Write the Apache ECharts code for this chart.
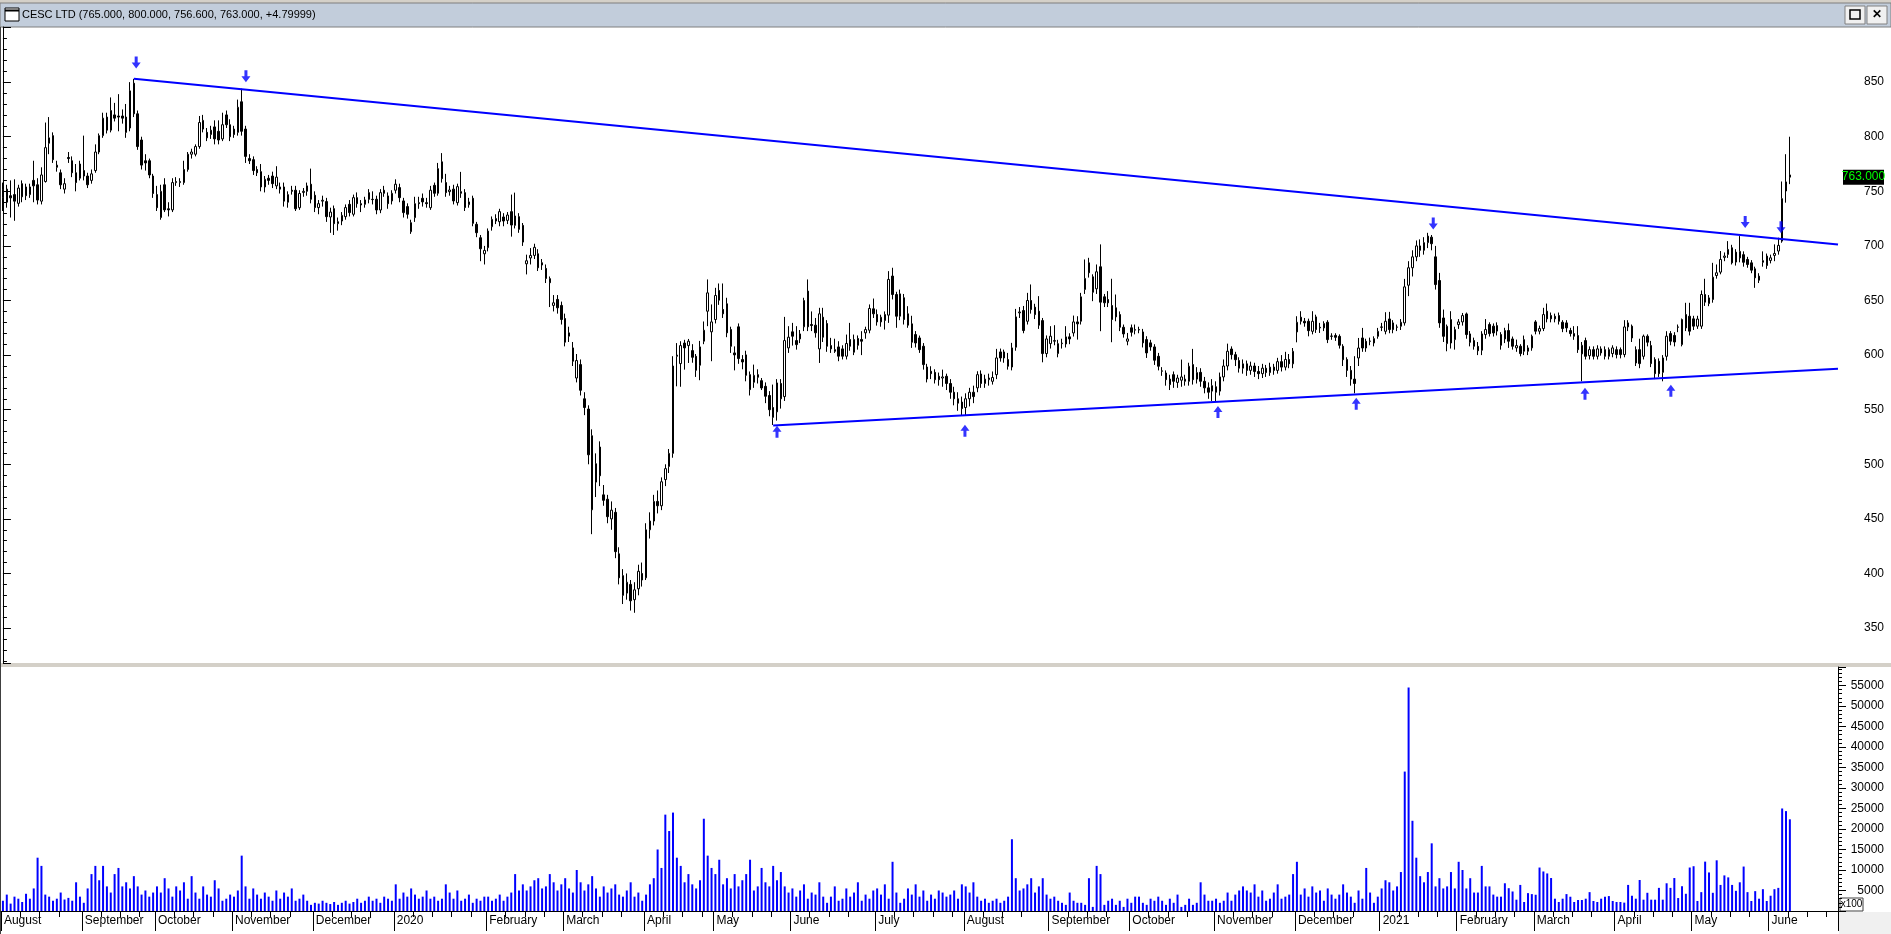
<!DOCTYPE html>
<html><head><meta charset="utf-8">
<script src="https://cdn.jsdelivr.net/npm/echarts@6/dist/echarts.min.js"></script>
<style>html,body{margin:0;padding:0;background:#fff;overflow:hidden}#c{width:1891px;height:934px}</style>
</head><body><div id="c"></div>
<script>
const titleText = 'CESC LTD (765.000, 800.000, 756.600, 763.000, +4.79999)';
const lastPriceLabel = '763.000';
const lastClose = 763;
const volumeUnitLabel = 'x100';
const monthLabels = ['August','September','October','November','December','2020','February','March','April','May','June','July','August','September','October','November','December','2021','February','March','April','May','June'];
const monthStarts = [0,21,40,60,81,102,126,146,167,185,205,227,250,272,293,315,336,358,378,398,419,439,459];
const futureBars = 12;
// [open, close, low, high]
const ohlc = [
[744,752,732,758],[740,752,735,756],[746,744,726,760],[747,741,723,761],[739,753,736,756],[757,745,740,760],[754,746,742,757],[747,754,744,757],[760,755,740,778],[756,742,738,762],
[741,765,738,772],[759,790,758,813],[794,799,784,818],[801,779,776,804],[772,774,768,778],[767,756,752,770],[752,757,748,762],[781,780,776,786],[778,767,763,782],[767,758,750,775],
[762,775,760,778],[769,764,760,801],[764,756,753,767],[760,766,757,770],[769,786,767,793],[786,801,784,803],[801,817,799,822],[818,806,803,822],[806,824,804,836],[820,817,814,831],
[819,818,805,839],[819,817,812,825],[818,804,799,830],[808,842,805,850],[849,821,818,853],[821,791,788,824],[797,774,770,800],[778,776,769,784],[778,765,762,780],[764,748,744,766],
[747,735,732,755],[726,750,724,756],[756,733,731,762],[734,733,727,740],[733,758,731,762],[758,759,755,763],[758,759,754,762],[758,770,756,778],[770,784,768,786],[784,786,780,789],
[784,791,782,793],[791,813,789,819],[807,815,804,820],[804,799,796,808],[802,806,798,810],[809,798,793,815],[805,797,793,815],[798,811,796,822],[820,811,808,824],[811,800,796,816],
[807,802,799,810],[804,827,801,834],[832,805,801,844],[807,782,776,810],[780,778,775,784],[779,769,765,782],[770,767,764,773],[768,754,750,775],[754,761,749,764],[762,760,756,765],
[764,757,753,768],[755,763,752,773],[754,752,748,758],[754,741,736,758],[740,747,735,750],[751,750,747,755],[751,734,732,755],[735,748,733,751],[749,750,745,753],[750,755,746,758],
[756.5,742.7,739,770.8],[746.4,735.1,731,750],[735.1,738.7,729,742],[741,741.8,736,746],[740.6,726.8,722,744],[726.5,731,712,735],[734.1,720.4,710,737],[720.4,722.2,714,726],[722.8,728,719,731],[726.8,735.1,724,738],
[738.1,730.5,727,742],[729,744.2,727,747],[744.2,738.7,735,749],[738.7,737.5,731,742],[738.1,742.1,735,745],[748.8,742.7,739,752],[742.7,742.4,738,750],[742.7,732.9,729,746],[732.9,748.8,730,752],[751,748.2,745,755],
[745.8,738.7,734,749],[741.2,748.2,738,751],[751,756.5,748,761],[753.4,744.2,740,757],[741.2,730.5,726,744],[736,729,725,739],[713,721.3,711,724],[725.9,738.7,722,745],[739.6,738.7,734,745],[743.6,740.3,736,748],
[739.6,738.7,735,744],[735,751,733,755],[755.5,748.2,745,758],[748.2,770.8,746,776],[777,761.6,758,785],[758,748.8,745,766],[749.7,751.2,746,755],[752,741.2,738,756],[739.6,754.3,737,757],[749.7,748.2,744,767.8],
[748.8,735.1,732,752],[737.8,740.3,735,744],[743.6,720.7,718,746],[719.8,712.1,708,722],[707.5,697.4,686,710],[692.8,695.9,683,700],[698.4,713.6,695,716],[717.6,724.3,714,727],[725,722.8,720,729],[722.2,731.4,718,734],
[726.5,722.8,718,730],[723.4,728.3,720,731],[731.4,719.1,708.5,747],[718.8,727.4,716,748.8],[726.8,715.2,712,730],[718.8,703.5,700,721],[683.6,686.4,673.9,692],[689,691.3,683,698],[691.3,698.7,688,702],[692.8,680,677,697],
[684.6,682.5,678,688],[679.4,670.2,666,683],[670,666.3,644,672],[645.5,647.9,640,655],[651,643.3,638,655],[645.5,632.6,628,649],[633.5,611.8,608,638],[617.3,620.4,612,626],[606.6,594.4,590,612],[579,595,575,601],
[591.3,567.8,563,596],[560,552,545,566],[550.6,508.7,500,554],[458.3,526.2,436,532],[500.5,483.7,470,510],[515.8,489.5,480,521],[472,467,462,481],[468,452,446,472],[450,458,440,466],[456,420,414,460],
[418,396,390,424],[398,380,372,404],[382,392,376,400],[390,375,366,394],[376,385,364,392],[386,402,380,408],[400,394,388,410],[396,440,394,446],[440,448,432,456],[448,466,444,472],
[466,462,455,476],[462,484,458,488],[486,496,480,500],[498,510,492,514],[510,590,506,599],[598.9,600,571.4,611],[592.2,608.7,571,612.7],[611,606.6,586.7,614],[608.7,612.7,592.8,614.8],[604.1,598,593,610],
[598.9,586.1,580,601],[590.7,607.5,577,613],[612.7,622.8,610,630.8],[640.2,657,626.5,669.3],[621.3,630.4,594.4,646.4],[632.6,654.6,629,661.6],[659.2,650.3,646,665.6],[641.8,637.8,634,665.6],[647,620.4,616.4,652.5],[623.4,608.1,602,626],
[602,600.2,586,608],[625.9,596.8,592,629],[595.9,593.7,587,600],[600.2,581.5,576,604],[582.1,568.4,563,585],[575.1,581.5,570,591.3],[582.1,579.7,574,587],[576.6,569.9,568,579],[571.4,562.3,556,575],[563,550,544,567],
[552,543,536,573],[548,574.5,540,578],[574,560,551,578],[562,613.3,558,635],[606.6,616.4,602,626.5],[621.3,617.3,608.7,629.5],[613.3,609.6,605,626.5],[614.8,619.4,611,623],[625.9,650,622,652.5],[658.6,625.9,622,669.3],
[628,627.1,622,640],[627.4,620.4,616,634],[605.7,637.8,592.8,643.3],[634.7,616.4,612,643.3],[628.9,608.1,603,632],[608.7,605.7,602,615.8],[605,603.5,602,615],[607.5,599,594.4,612.7],[605.7,599,596,609],[599,610.6,596,618.8],
[614.3,608.1,604,629.5],[602.6,614.3,600,618.8],[615.2,609,605,618],[614.3,612.7,600,621.9],[620.4,623.4,615,626],[622.8,642.7,620,646.4],[642.4,637.8,634,651.8],[637.2,630.4,627,641.8],[630.4,634.7,626,637],[631.7,637.2,623.4,640],
[636.6,669.3,629.5,676.9],[672.4,655.5,651,680],[655.5,635.6,625,658],[635.6,656.1,632,660],[652.5,632.6,628,656],[637.8,627.4,625,644.8],[628.6,611.8,606.6,636],[618.8,611.1,607,622],[615.7,605,602,617.9],[608.1,591.3,586.7,611],
[589.1,578.1,575,592],[585.2,583,578,589.8],[584.2,577.5,574,587],[580.6,577.5,572,584],[579,580,571,586.7],[580.6,574,568,583],[574,566,560,578],[566,560,554,571],[560,556,549,566],[557,551,545,562],
[552,560,545,565],[560,566,553,570],[566,562,556,572],[570,582.1,566,585.2],[582.7,574,570,586],[574,578,570,582],[577.5,579,572,583],[576,579.5,573,585],[582.1,597.4,578,605.7],[602.9,597.4,594,606],
[602.9,597.4,593,605],[595.9,589.8,586.7,602],[589.1,606.6,586,611.2],[607.2,635,604,642.3],[638.7,639.5,634,644],[640.8,622.5,620,645],[631,650,628,657],[650,641.7,638,664.7],[643.9,637.1,633,647],[640.2,627.4,624,654],
[631.6,601.4,593.4,634],[601.4,614.8,598,618],[610.5,617.3,606,626.5],[612.7,613.3,609,627.4],[601.4,610.5,598,614],[610.5,611,606,615],[610.2,616.7,607,626.5],[616.7,614.8,610,620],[620.3,630.4,617,636.2],[630.4,628.6,614.2,635.6],
[631,653.4,628,657],[660.1,670.2,656,687.6],[684.5,675.4,671,689.1],[671.7,657.6,649.4,674],[660.7,676.3,656,683],[680.9,648.5,621.9,701.4],[653.4,647.9,644,656],[650.9,647.9,644,658.6],[645.4,632.6,611.8,669.9],[643.3,635,631,655.5],
[637.1,625.5,622,640],[625.5,619.4,616,628],[612.7,614.8,609,620.3],[625,620.9,617,628],[622.8,623.4,619,628],[623.4,623,620,626],[621.2,611.2,607,624],[614.2,602,597.4,617.3],[611.2,607.5,604,614],[607.5,595.3,591,610],
[598.9,589.8,586,602],[585.2,585.6,581,589],[583.6,577.5,572,586],[578,573,568,582],[582.1,576,570,585],[575,579,570,582],[577,580,571,595.9],[576,578,572,582],[576,589.8,572,593],[591.3,577.5,573,605.7],
[578,584,574,589],[584.2,576,571,588],[576,570,565,580],[570,566,560,575],[567,572,558,578],[571,566,557,576],[567,580,563,584],[580,590,576,596],[590,603.5,586,610.5],[605.6,600.4,596,608],
[600.4,595.8,590,603],[595,588,584,598],[588,592,583,596],[592,586,581,595],[586,590,582,594],[590,585,580,593],[585,583,578,590],[583,588,579,592],[588,584,580,591],[584,589,581,593],
[589,586,582,592],[586,594,583,597.5],[594,589,585,600],[589,596,586,603],[596,592,588,601],[592,603.5,588,606.5],[621.2,630.1,611.7,635.6],[634.7,631,628,640.2],[631,629.5,626,634],[631,622.4,617.2,633.4],
[621.8,631,619,640.2],[635,623.4,620.3,637],[625.5,624.9,620.3,629.5],[624.9,628.9,622,631],[630.1,614.2,611,632],[617.5,617.2,614,620],[618,616.3,613,620],[617.2,609,606,619],[608.1,595.8,590,610],[596,586,580,598],
[586,578,572,590],[578,574,565,599],[597.4,606.5,590,615.7],[615.7,606.5,603,624.9],[612.6,606.5,603,615],[612.6,612.9,609,616],[611.1,615.1,608,617.2],[617.2,621.8,615,624.9],[625.8,625.5,622,629.5],[621.8,631,619,639.3],
[633.1,623.4,620,639.6],[629.5,623.4,620,632],[625.8,625.5,622,628],[626.4,630.1,623,633],[629.5,662.5,627,669.8],[664,680,654,686],[680,690,672,696],[690,700,686,705],[700,696,690,706],[696,703,692,708],
[703,709,698,712],[708,702,696,710],[690,664.6,660,700],[668.3,629.5,625,675.3],[634,617.2,612,641.7],[610.5,626.4,603.5,628],[632.5,611.1,606,640.2],[614.2,623.4,605,626],[627.9,630.4,624,633],[630.4,636.2,627,638.6],
[637.7,618.8,615,639],[619.4,611.7,608,622],[613.3,608.1,605,616],[608,604,600,612],[604.4,619.4,600,621.9],[618.8,623.4,615,633],[628,619.7,617,630],[626.5,620.3,617,629],[627,622,618,630],[618.8,609,605,621],
[614.8,622.5,611,625],[622.5,612.7,606.6,628.9],[614.8,608.1,605,617],[606.6,608.7,603,614.2],[608.1,601.4,598.9,610],[603.5,614.2,600,617.9],[603.5,606.6,600,609],[606.6,617.3,604,618.8],[630.4,621.9,619,632],[621.9,624.3,619,627],
[624.3,637.1,622,643.3],[640.2,633.2,630,647.2],[636.2,633.2,630,639],[635.5,633.2,630,638],[636.2,631,628,639],[630.1,624.3,621,632],[629.5,624.9,621,632],[622.5,619.7,617,625],[619.7,617.3,614,626.5],[617.9,605,602,626.5],
[601.1,609,576,612],[613.3,598.9,596,616],[599.5,605,596,608],[605,598.9,596,608],[598.9,605.7,596,609],[605.7,602,599.5,608],[605,598.9,596,608],[598.9,605,596,607],[601.4,606.6,598,609],[605,600.5,597,608],
[605,600.5,597,607],[600.5,625.8,598,632],[625.8,629.5,622,632],[626.5,615.7,612,628],[605,592.8,590,608],[605,592.2,588,615],[598.9,617.3,596,618.8],[617.3,611.8,608,619],[608.7,592.2,589,613],[595.9,583,578,598],
[594.4,583,580,597],[584.2,597.4,576,600],[598.9,617.3,595,621.9],[619.7,612.7,609,622],[618,612,608,621],[625.8,625.5,621,628],[609.6,632.6,608,633.5],[637.1,624.9,622,647.9],[635.6,621.9,618,647.9],[633.2,626.5,623,636],
[626.5,633,624,636],[626.5,655.5,624,659.2],[655.5,648.5,645,669.9],[647.2,652.4,644.8,655],[650.9,671.4,648,684.5],[672.9,675.4,670,683],[676,687.6,674,695.3],[689.5,690.7,686,694],[692.2,696.8,689,704.4],[698.3,684.5,683,701],
[694.3,685.2,682,697],[689,695,685,709],[692,685,681,695],[687.6,683,680,690],[684.5,677.8,675,687],[679,670.8,661.6,681],[672.3,668.6,666,675],[685,686.5,681,695],[690.7,682.1,679,693],[686.7,689.1,684,692],
[691.3,693.1,686,701.4],[695.3,700.5,692,707.5],[704.4,743.3,702.9,759],[750.3,758.6,739.6,784],[765,763,756.6,800]
];
// volume in units of 100 shares
const volume = [
2500,4000,1800,3500,3000,2200,4200,3000,5500,13000,11000,4000,3500,2500,3000,4500,2800,3200,2500,7000,
3500,2000,5500,9000,11000,7500,11000,6000,4500,9000,10500,6000,7000,5500,8500,6000,4000,5000,3500,4500,
6000,4500,8000,5500,3500,6000,5000,7000,3000,8500,4500,3000,6000,4000,3500,7500,5500,2500,3000,4000,
3500,5000,13500,6000,3000,5500,4000,3000,4500,3500,2500,5000,3000,4500,3500,5500,2500,3000,4000,2500,
1500,2000,1800,2500,2000,1700,2200,1500,2000,2500,1800,2200,3000,2000,2500,3500,2500,3000,2000,3500,
3000,2500,6500,3000,4500,3500,5500,4000,3000,3500,5000,3000,3500,2500,3000,6500,4500,3000,5000,2500,
3000,4000,2000,3000,2500,3500,3500,2500,3000,4000,2500,3500,4500,9000,5000,6500,5000,6000,7500,8000,
5500,6000,9000,7000,5000,6500,8000,5500,4500,10000,7000,5000,6500,8500,5500,3500,6000,4500,5500,6500,
4000,3500,5000,7000,3500,4500,2500,4000,6500,8000,15000,10500,23500,19500,24000,13000,11000,7000,9000,6500,
5500,7500,22500,13500,10500,9000,12500,6500,8000,5500,9000,6000,7500,9000,12500,5000,6000,10500,7000,6000,
11000,7500,9500,6000,4500,5500,3500,5000,6500,3000,4500,4000,7000,3500,2000,3500,6000,2500,3000,5500,
3500,4500,7000,2500,4000,3000,5000,5500,4000,6500,3000,12000,4500,2000,3000,5500,4000,6500,3500,5000,
2500,4000,3000,5000,4500,3500,4000,5000,3000,6500,6000,4500,7000,3500,2500,3000,2000,2500,3000,2000,
2500,3500,17500,8000,5000,5500,6500,8000,4500,6000,8000,4000,3000,3500,2500,2000,1500,4500,2500,2000,
2000,1500,8000,1000,11000,9000,1500,2500,3000,1500,2500,1000,3000,2000,3500,3500,2000,1500,3000,2500,
3500,2500,1500,3000,2000,4000,1000,1500,3000,1500,2000,7000,4000,2500,2500,3000,2000,2500,4500,2500,
4000,5000,6000,5000,4500,6500,3500,5000,2500,3000,4500,6500,3000,3500,4000,9000,12000,4000,5500,3500,
6000,4500,5000,2500,5500,4000,3000,4000,6500,4500,3500,2000,5000,3000,10500,4500,2000,3500,5500,7500,
7000,5000,6000,9500,34000,54500,22000,13000,8500,7000,9500,16500,6000,8000,5500,6000,9500,5500,12000,10000,
5500,8000,4500,4500,11000,6000,6000,4000,3500,3500,
6760,5560,4760,2760,6360,2200,4360,4120,3960,10600,9640,9160,8040,3000,2200,3000,4120,3480,2200,2680,
2680,3000,4600,2440,2200,3000,3480,3640,2440,2200,2200,2040,6360,3720,3000,7560,2760,4440,2760,2760,
5640,2760,6760,5640,8040,3160,6040,4200,10600,10920,2440,4600,12040,9400,4440,12360,6360,8680,8200,6360,
4920,7000,10840,4600,2440,4840,3000,5320,2440,3720,5320,5640,25000,24360,22360
];
// trendlines: [bar index, price]
const resistanceLine = [[34, 853], [476.5, 701.4]];
const supportLine = [[200, 535.5], [476.5, 587.6]];
// signal arrows: [bar index, price]
const downArrows = [[34.6, 868], [63.1, 855.5], [371.4, 720.6], [452.4, 721.8], [461.7, 717]];
const upArrows = [[201, 529.8], [249.8, 530.7], [315.5, 548], [351.4, 555.5], [410.8, 564.7], [433.1, 567.4]];

const FONT = '"Liberation Sans", Arial, sans-serif';
const N = ohlc.length + futureBars;
const cats = Array.from({length: N}, (_, i) => String(i));
const monthMap = {};
monthStarts.forEach((s, k) => { monthMap[s] = monthLabels[k]; });
const weekTicks = new Set();
for (let k = 0; k < monthStarts.length; k++) {
  const s = monthStarts[k], e = k + 1 < monthStarts.length ? monthStarts[k + 1] : N;
  for (let t = s + 5; t < e - 2; t += 5) weekTicks.add(t);
}
const downPath = 'path://M3,0L6,0L6,6L9,6L4.5,12L0,6L3,6Z';
const upPath = 'path://M4.5,0L9,6L6,6L6,12L3,12L3,6L0,6Z';

const chart = echarts.init(document.getElementById('c'), null, {renderer: 'canvas', width: 1891, height: 934});
const yAxisCommon = {
  type: 'value', position: 'right',
  axisLine: {show: true, lineStyle: {color: '#000', width: 1}},
  axisTick: {show: true, inside: false, length: 8, lineStyle: {color: '#000'}},
  minorTick: {show: true, splitNumber: 5, length: 4, lineStyle: {color: '#000'}},
  splitLine: {show: false}, minorSplitLine: {show: false}
};
chart.setOption({
  animation: false,
  backgroundColor: '#fff',
  grid: [
    {left: 1, right: 53, top: 27, height: 636},
    {left: 1, right: 53, top: 667, height: 244}
  ],
  xAxis: [
    {type: 'category', gridIndex: 0, data: cats, boundaryGap: true, show: false},
    {type: 'value', gridIndex: 0, min: -0.5, max: N - 0.5, show: false},
    {type: 'category', gridIndex: 1, data: cats, position: 'bottom', boundaryGap: true,
      axisLine: {show: true, lineStyle: {color: '#000', width: 1}},
      axisTick: {show: true, interval: (i) => monthMap[i] !== undefined, length: 20, lineStyle: {color: '#000'}},
      axisLabel: {show: true, interval: (i) => monthMap[i] !== undefined, formatter: (v, i) => monthMap[i] || '',
        align: 'left', margin: 4, padding: [0, 0, 0, 1], color: '#000', fontSize: 12, fontFamily: FONT},
      splitLine: {show: false}},
    {type: 'category', gridIndex: 1, data: cats, position: 'bottom', boundaryGap: true,
      axisLine: {show: false}, axisLabel: {show: false}, splitLine: {show: false},
      axisTick: {show: true, interval: (i) => weekTicks.has(i), length: 6, lineStyle: {color: '#000'}}}
  ],
  yAxis: [
    Object.assign({}, yAxisCommon, {gridIndex: 0, min: 318, max: 900.5, splitNumber: 12,
      axisLabel: {color: '#000', fontSize: 12, fontFamily: FONT, align: 'right', margin: 46,
        formatter: (v) => (Math.abs(v % 50) < 1e-6 && v < 900) ? String(v) : ''}}),
    Object.assign({}, yAxisCommon, {gridIndex: 1, min: 0, max: 59500, splitNumber: 12,
      axisLabel: {color: '#000', fontSize: 12, fontFamily: FONT, align: 'right', margin: 46,
        formatter: (v) => (v > 0 && v % 5000 === 0) ? String(v) : ''}})
  ],
  series: [
    {type: 'candlestick', xAxisIndex: 0, yAxisIndex: 0, data: ohlc, barWidth: 2, silent: true,
      itemStyle: {color: '#fff', color0: '#000', borderColor: '#000', borderColor0: '#000', borderColorDoji: '#000', borderWidth: 1}},
    {type: 'line', xAxisIndex: 1, yAxisIndex: 0, data: resistanceLine, symbol: 'none', silent: true,
      lineStyle: {color: '#0000ff', width: 2}},
    {type: 'line', xAxisIndex: 1, yAxisIndex: 0, data: supportLine, symbol: 'none', silent: true,
      lineStyle: {color: '#0000ff', width: 2}},
    {type: 'scatter', xAxisIndex: 1, yAxisIndex: 0, data: downArrows, symbol: downPath, symbolSize: [9, 12], silent: true,
      itemStyle: {color: '#0000ff'}},
    {type: 'scatter', xAxisIndex: 1, yAxisIndex: 0, data: upArrows, symbol: upPath, symbolSize: [9, 12], silent: true,
      itemStyle: {color: '#0000ff'}},
    {type: 'bar', xAxisIndex: 2, yAxisIndex: 1, data: volume, barWidth: 2, silent: true,
      itemStyle: {color: '#0000ff'}}
  ]
});

const yLast = chart.convertToPixel({yAxisIndex: 0}, lastClose);
chart.setOption({
  graphic: [
    {type: 'rect', shape: {x: 0, y: 0, width: 1891, height: 3}, style: {fill: '#d4d0c8'}},
    {type: 'rect', shape: {x: 0, y: 3, width: 1891, height: 24}, style: {fill: '#c2cddb', stroke: '#7f7f7f', lineWidth: 1}},
    {type: 'rect', shape: {x: 5, y: 8, width: 14, height: 13}, style: {fill: '#fff', stroke: '#000', lineWidth: 1}},
    {type: 'line', shape: {x1: 5, y1: 10.5, x2: 19, y2: 10.5}, style: {stroke: '#000', lineWidth: 2}},
    {type: 'text', x: 22, y: 15, style: {text: titleText, fill: '#000', font: '11px ' + FONT, textVerticalAlign: 'middle'}},
    {type: 'rect', shape: {x: 1845, y: 6, width: 20, height: 18}, style: {fill: '#f0f0f0', stroke: '#808080', lineWidth: 1}},
    {type: 'rect', shape: {x: 1850, y: 10, width: 10, height: 9}, style: {fill: 'none', stroke: '#000', lineWidth: 1.5}},
    {type: 'rect', shape: {x: 1867, y: 6, width: 20, height: 18}, style: {fill: '#f0f0f0', stroke: '#808080', lineWidth: 1}},
    {type: 'text', x: 1877, y: 15, style: {text: '\u2715', fill: '#000', font: 'bold 12px ' + FONT, textAlign: 'center', textVerticalAlign: 'middle'}},
    {type: 'rect', shape: {x: 0, y: 663, width: 1891, height: 4}, style: {fill: '#d4d0c8'}},
    {type: 'line', shape: {x1: 0.5, y1: 27, x2: 0.5, y2: 934}, style: {stroke: '#404040', lineWidth: 1}},
    {type: 'rect', shape: {x: 1843, y: yLast - 7.5, width: 41, height: 15}, style: {fill: '#000'}},
    {type: 'text', x: 1863.5, y: yLast, style: {text: lastPriceLabel, fill: '#00ff00', font: '12px ' + FONT, textAlign: 'center', textVerticalAlign: 'middle'}},
    {type: 'rect', shape: {x: 1840, y: 898, width: 23, height: 13}, style: {fill: '#fff', stroke: '#404040', lineWidth: 1}},
    {type: 'text', x: 1851.5, y: 904.5, style: {text: volumeUnitLabel, fill: '#000', font: '10px ' + FONT, textAlign: 'center', textVerticalAlign: 'middle'}},
    {type: 'rect', shape: {x: 1839, y: 912, width: 52, height: 22}, style: {fill: '#f0f0f0'}}
  ]
});
</script></body></html>
